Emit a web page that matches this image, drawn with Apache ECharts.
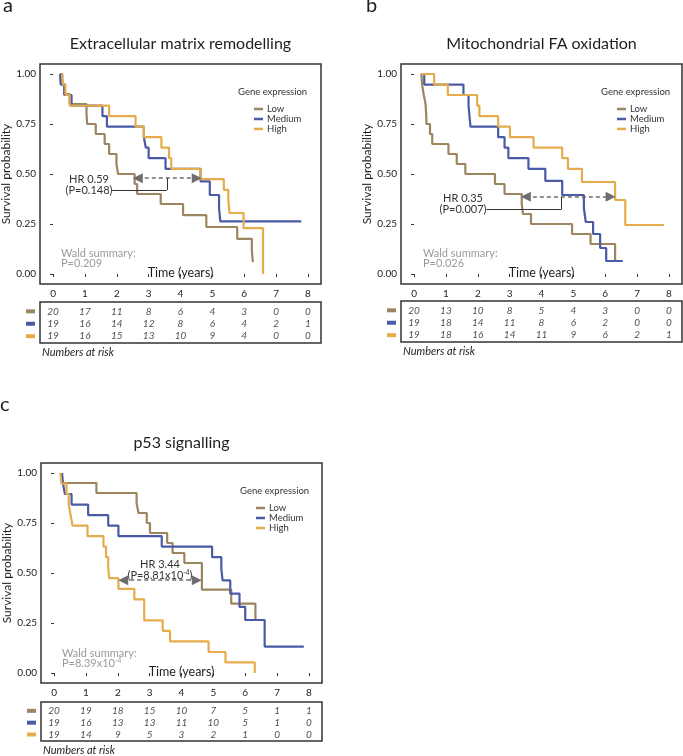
<!DOCTYPE html>
<html>
<head>
<meta charset="utf-8">
<script src="https://cdn.jsdelivr.net/npm/echarts@6/dist/echarts.min.js"></script>
<style>
html, body { margin: 0; padding: 0; background: #fff; }
#main { width: 683px; height: 756px; }
</style>
</head>
<body>
<div id="main"></div>
<script>
var groups = ['Low', 'Medium', 'High'];
var years = [0, 1, 2, 3, 4, 5, 6, 7, 8];
var survTicks = [0, 0.25, 0.5, 0.75, 1];

// a - Extracellular matrix remodelling
var ecmLowT = [0.22, 0.29, 0.37, 0.52, 1.05, 1.07, 1.34, 1.62, 1.76, 1.99, 2.04, 2.56, 2.64, 3.38, 4.08, 4.81, 5.78, 6.24, 6.27];
var ecmLowS = [1, 0.95, 0.90, 0.85, 0.80, 0.75, 0.70, 0.65, 0.60, 0.55, 0.50, 0.45, 0.40, 0.35, 0.294, 0.235, 0.176, 0.118, 0.059];
var ecmMedT = [0.22, 0.24, 0.35, 0.58, 1.55, 1.69, 2.85, 2.91, 3.00, 3.53, 4.63, 4.92, 5.21, 5.25, 7.79];
var ecmMedS = [1, 0.947, 0.895, 0.842, 0.789, 0.737, 0.684, 0.632, 0.579, 0.526, 0.463, 0.395, 0.33, 0.263, 0.263];
var ecmHighT = [0.28, 0.31, 0.39, 0.52, 1.76, 2.59, 2.85, 3.40, 3.64, 3.71, 4.63, 5.36, 5.50, 5.54, 5.98, 6.59];
var ecmHighS = [1, 0.947, 0.895, 0.842, 0.789, 0.737, 0.684, 0.632, 0.579, 0.526, 0.474, 0.421, 0.368, 0.305, 0.229, 0];
var ecmRiskLow = [20, 17, 11, 8, 6, 4, 3, 0, 0];
var ecmRiskMed = [19, 16, 14, 12, 8, 6, 4, 2, 1];
var ecmRiskHigh = [19, 16, 15, 13, 10, 9, 4, 0, 0];

// b - Mitochondrial FA oxidation
var faoLowT = [0.23, 0.25, 0.30, 0.36, 0.38, 0.39, 0.50, 0.57, 1.08, 1.34, 1.61, 2.54, 2.84, 3.38, 3.42, 3.67, 4.96, 5.54, 6.31];
var faoLowS = [1, 0.95, 0.90, 0.85, 0.80, 0.75, 0.70, 0.65, 0.60, 0.55, 0.50, 0.45, 0.40, 0.35, 0.30, 0.25, 0.20, 0.15, 0.067];
var faoMedT = [0.23, 0.32, 1.55, 1.71, 1.74, 1.77, 2.64, 2.84, 2.96, 3.59, 4.12, 4.65, 5.33, 5.39, 5.62, 5.84, 6.03, 6.55];
var faoMedS = [1, 0.947, 0.895, 0.842, 0.789, 0.737, 0.684, 0.632, 0.579, 0.526, 0.466, 0.395, 0.33, 0.26, 0.20, 0.13, 0.065, 0.065];
var faoHighT = [0.23, 0.63, 1.06, 1.98, 2.05, 2.64, 3.01, 3.75, 4.65, 4.83, 5.27, 6.31, 6.63, 7.84];
var faoHighS = [1, 0.947, 0.895, 0.842, 0.789, 0.737, 0.684, 0.632, 0.579, 0.526, 0.46, 0.37, 0.245, 0.245];
var faoRiskLow = [20, 13, 10, 8, 5, 4, 3, 0, 0];
var faoRiskMed = [19, 18, 14, 11, 8, 6, 2, 0, 0];
var faoRiskHigh = [19, 18, 16, 14, 11, 9, 6, 2, 1];

// c - p53 signalling
var p53LowT = [0.23, 0.26, 1.33, 2.59, 2.65, 2.91, 3.01, 3.55, 3.72, 4.09, 4.64, 5.56, 6.32];
var p53LowS = [1, 0.95, 0.90, 0.85, 0.80, 0.75, 0.70, 0.65, 0.60, 0.55, 0.417, 0.347, 0.26];
var p53MedT = [0.25, 0.28, 0.34, 0.55, 1.07, 1.70, 2.02, 3.38, 4.96, 5.25, 5.29, 5.53, 5.82, 6.00, 6.61, 7.84];
var p53MedS = [1, 0.947, 0.895, 0.842, 0.789, 0.737, 0.684, 0.632, 0.579, 0.521, 0.463, 0.397, 0.331, 0.265, 0.132, 0.132];
var p53HighT = [0.20, 0.23, 0.39, 0.46, 0.52, 0.58, 1.05, 1.55, 1.63, 1.70, 1.73, 2.02, 2.52, 2.83, 3.41, 3.64, 4.85, 5.38, 6.30];
var p53HighS = [1, 0.947, 0.895, 0.842, 0.789, 0.737, 0.684, 0.632, 0.579, 0.526, 0.474, 0.421, 0.368, 0.263, 0.211, 0.158, 0.105, 0.053, 0];
var p53RiskLow = [20, 19, 18, 15, 10, 7, 5, 1, 1];
var p53RiskMed = [19, 16, 13, 13, 11, 10, 5, 1, 0];
var p53RiskHigh = [19, 14, 9, 5, 3, 2, 1, 0, 0];

var colors = { Low: '#9b8660', Medium: '#4a5aa6', High: '#e6ac4c' };
var font = 'Lato, "Open Sans", sans-serif';
var xMin = -0.41, xMax = 8.41;

var panels = [
	{
		letter: 'a', lx: 3, ly: 16, title: 'Extracellular matrix remodelling',
		plot: { left: 40, top: 64, width: 281, height: 220 },
		risk: { left: 40, top: 302, width: 281, height: 41 },
		curves: [[ecmLowT, ecmLowS], [ecmMedT, ecmMedS], [ecmHighT, ecmHighS]],
		atRisk: [ecmRiskLow, ecmRiskMed, ecmRiskHigh],
		arrow: { y: 0.479, x1: 2.66, x2: 4.51 },
		link: { y: 0.42, x1: 1.85, x2: 3.57 },
		hr: ['HR 0.59', '(P=0.148)'], hrPos: [89, 179],
		wald: 'P=0.209', waldPos: [61, 253],
		legendPos: [238, 92]
	},
	{
		letter: 'b', lx: 366, ly: 16, title: 'Mitochondrial FA oxidation',
		plot: { left: 401, top: 64, width: 281, height: 220 },
		risk: { left: 401, top: 301, width: 281, height: 41 },
		curves: [[faoLowT, faoLowS], [faoMedT, faoMedS], [faoHighT, faoHighS]],
		atRisk: [faoRiskLow, faoRiskMed, faoRiskHigh],
		arrow: { y: 0.386, x1: 3.51, x2: 6.17 },
		link: { y: 0.324, x1: 2.27, x2: 4.62 },
		hr: ['HR 0.35', '(P=0.007)'], hrPos: [463, 198],
		wald: 'P=0.026', waldPos: [423, 253],
		legendPos: [601, 92]
	},
	{
		letter: 'c', lx: 0, ly: 415, title: 'p53 signalling',
		plot: { left: 41, top: 463, width: 281, height: 220 },
		risk: { left: 41, top: 702, width: 281, height: 39 },
		curves: [[p53LowT, p53LowS], [p53MedT, p53MedS], [p53HighT, p53HighS]],
		atRisk: [p53RiskLow, p53RiskMed, p53RiskHigh],
		arrow: { y: 0.464, x1: 2.17, x2: 4.48 },
		link: null,
		hr: ['HR 3.44', '(P=8.81x10{sup|-4})'], hrPos: [160, 564],
		wald: 'P=8.39x10{sup|-4}', waldPos: [62, 653],
		legendPos: [240, 491]
	}
];

function txt(x, y, text, size, extra) {
	var style = {
		text: text, x: x, y: y, fill: '#1e1e1e', fontSize: size, fontFamily: font,
		align: 'left', verticalAlign: 'middle',
		rich: { sup: { fontSize: size * 0.6, verticalAlign: 'top', fontFamily: font } }
	};
	for (var k in extra) style[k] = extra[k];
	return { type: 'text', silent: true, style: style };
}

var grid = [], xAxis = [], yAxis = [], series = [], legend = [], graphic = [];

panels.forEach(function(p, i) {
	var gi = i * 2, ri = i * 2 + 1;
	grid.push({ left: p.plot.left, top: p.plot.top, width: p.plot.width, height: p.plot.height,
		show: true, borderColor: '#333', borderWidth: 1.5, outerBoundsMode: 'none' });
	grid.push({ left: p.risk.left, top: p.risk.top, width: p.risk.width, height: p.risk.height,
		show: true, borderColor: '#333', borderWidth: 1.5, outerBoundsMode: 'none' });

	xAxis.push({
		gridIndex: gi, type: 'value', min: xMin, max: xMax,
		axisLine: { show: false }, splitLine: { show: false },
		axisTick: { show: true, length: 3, customValues: years, lineStyle: { color: '#333' } },
		axisLabel: { customValues: years, fontSize: 10, color: '#222', margin: 5, fontFamily: font }
	});
	xAxis.push({ gridIndex: ri, type: 'value', min: xMin, max: xMax, show: false });

	yAxis.push({
		gridIndex: gi, type: 'value', min: -0.05, max: 1.05,
		axisLine: { show: false }, splitLine: { show: false },
		axisTick: { show: true, length: 3, customValues: survTicks, lineStyle: { color: '#333' } },
		axisLabel: { customValues: survTicks, fontSize: 10, color: '#222', margin: 4, fontFamily: font,
			formatter: function(v) { return v.toFixed(2); } },
		name: 'Survival probability', nameLocation: 'middle', nameGap: 24,
		nameTextStyle: { fontSize: 12, color: '#1e1e1e', fontFamily: font }
	});
	yAxis.push({
		gridIndex: ri, type: 'value', inverse: true, min: -0.75, max: 2.55,
		axisLine: { show: false }, splitLine: { show: false }, axisTick: { show: false },
		axisLabel: {
			customValues: [0, 1, 2], margin: 5,
			formatter: function(v) { return '{s' + v + '|}'; },
			rich: {
				s0: { backgroundColor: colors.Low, width: 9, height: 4 },
				s1: { backgroundColor: colors.Medium, width: 9, height: 4 },
				s2: { backgroundColor: colors.High, width: 9, height: 4 }
			}
		}
	});

	groups.forEach(function(g, k) {
		var t = p.curves[k][0], s = p.curves[k][1];
		var s0 = {
			type: 'line', name: g, xAxisIndex: gi, yAxisIndex: gi, step: 'end',
			symbol: 'none', silent: true, color: colors[g],
			lineStyle: { color: colors[g], width: 2.2 },
			data: t.map(function(v, j) { return [v, s[j]]; })
		};
		if (k === 0) {
			var ml = [[
				{ coord: [p.arrow.x1, p.arrow.y], symbol: 'triangle', symbolSize: [10, 10],
					lineStyle: { type: [4, 3], color: '#6e6e6e', width: 1.5 }, itemStyle: { color: '#6e6e6e' } },
				{ coord: [p.arrow.x2, p.arrow.y], symbol: 'triangle', symbolSize: [10, 10] }
			]];
			if (p.link) {
				ml.push([{ coord: [p.link.x1, p.link.y], symbol: 'none', lineStyle: { type: 'solid', color: '#333', width: 1 } },
					{ coord: [p.link.x2, p.link.y], symbol: 'none' }]);
				ml.push([{ coord: [p.link.x2, p.link.y], symbol: 'none', lineStyle: { type: 'solid', color: '#333', width: 1 } },
					{ coord: [p.link.x2, p.arrow.y], symbol: 'none' }]);
			}
			s0.markLine = { silent: true, animation: false, label: { show: false }, data: ml };
		}
		series.push(s0);
	});

	var cells = [];
	groups.forEach(function(g, k) {
		p.atRisk[k].forEach(function(n, j) { cells.push([years[j], k, n]); });
	});
	series.push({
		type: 'scatter', xAxisIndex: ri, yAxisIndex: ri, silent: true, symbolSize: 1,
		itemStyle: { color: 'transparent' },
		label: { show: true, position: 'inside', fontSize: 10, fontStyle: 'italic', color: '#1e1e1e', fontFamily: font,
			formatter: function(q) { return q.value[2]; } },
		data: cells
	});

	legend.push({
		data: groups, orient: 'vertical', left: p.legendPos[0] + 11, top: p.legendPos[1] + 7,
		icon: 'rect', itemWidth: 9, itemHeight: 2.5, itemGap: 0, selectedMode: false,
		textStyle: { fontSize: 9.5, color: '#333', lineHeight: 10, fontFamily: font, padding: [0, 0, 0, -1] }
	});

	var cx = p.plot.left + p.plot.width / 2;
	graphic.push(txt(p.lx, p.ly, p.letter, 20, { verticalAlign: 'bottom' }));
	graphic.push(txt(cx, p.plot.top - 20, p.title, 16, { align: 'center' }));
	graphic.push(txt(p.legendPos[0], p.legendPos[1], 'Gene expression', 9.5, { fill: '#333' }));
	graphic.push(txt(cx, p.plot.top + 209, 'Time (years)', 12.5, { align: 'center' }));
	graphic.push(txt(p.hrPos[0], p.hrPos[1], p.hr[0], 11, { align: 'center', fill: '#333' }));
	graphic.push(txt(p.hrPos[0], p.hrPos[1] + 11, p.hr[1], 11, { align: 'center', fill: '#333' }));
	graphic.push(txt(p.waldPos[0], p.waldPos[1], 'Wald summary:', 11, { fill: '#9a9a9a' }));
	graphic.push(txt(p.waldPos[0], p.waldPos[1] + 10, p.wald, 11, { fill: '#9a9a9a' }));
	graphic.push(txt(p.risk.left + 2, p.risk.top + p.risk.height + 9, 'Numbers at risk', 11, { fontStyle: 'italic' }));
});

var myChart = echarts.init(document.getElementById('main'));
myChart.setOption({
	animation: false,
	grid: grid,
	xAxis: xAxis,
	yAxis: yAxis,
	legend: legend,
	graphic: graphic,
	series: series
});
</script>
</body>
</html>
